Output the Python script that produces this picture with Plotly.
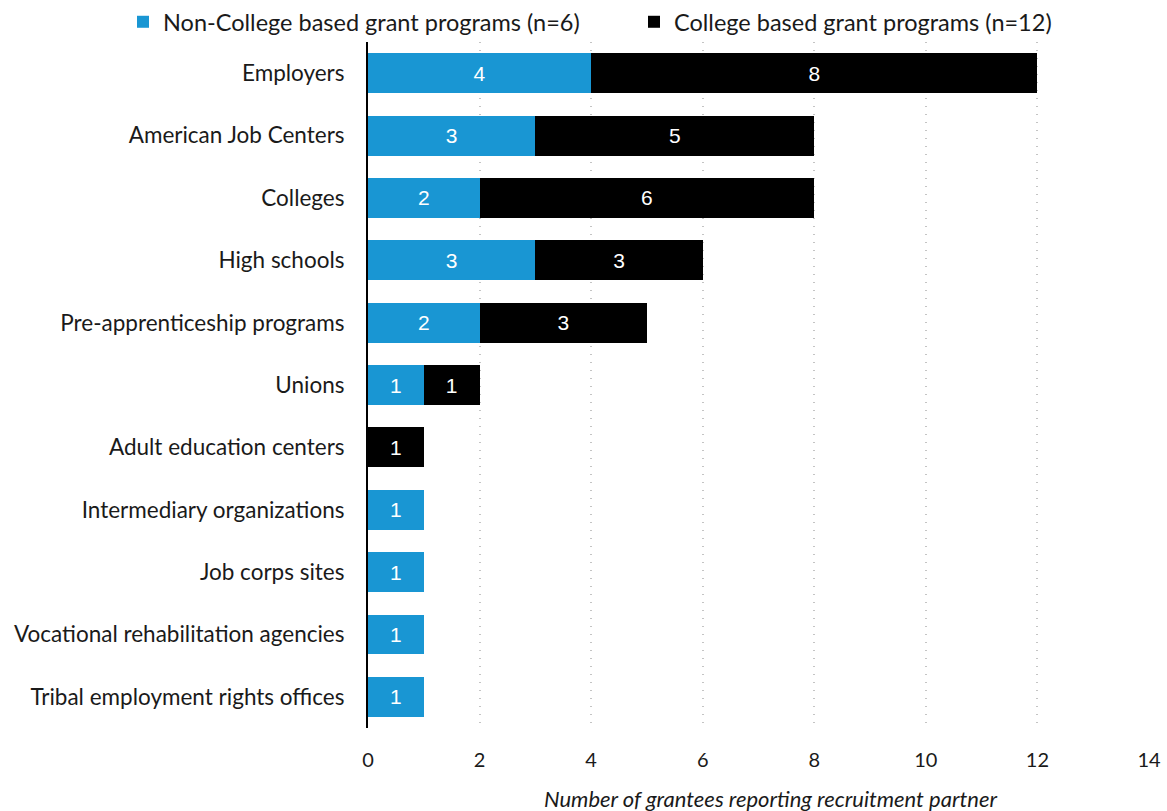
import plotly.graph_objects as go

partners = [
    "Employers",
    "American Job Centers",
    "Colleges",
    "High schools",
    "Pre-apprenticeship programs",
    "Unions",
    "Adult education centers",
    "Intermediary organizations",
    "Job corps sites",
    "Vocational rehabilitation agencies",
    "Tribal employment rights offices",
]
non_college = [4, 3, 2, 3, 2, 1, 0, 1, 1, 1, 1]
college = [8, 5, 6, 3, 3, 1, 1, 0, 0, 0, 0]

BLUE = "#1996d3"
TEXT = "#1a1a1a"
FONT = "Lato"
BAR_FONT = dict(family="Liberation Sans, Arial", size=21, color="white")
LEGEND_FONT = dict(family=FONT, size=23.5, color=TEXT)

def labels(vals):
    return [str(v) if v else "" for v in vals]

fig = go.Figure()
fig.add_trace(go.Bar(
    y=partners, x=non_college, orientation="h",
    name="Non-College based grant programs (n=6)",
    marker=dict(color=BLUE, line=dict(width=0)),
    text=labels(non_college), textposition="inside", insidetextanchor="middle",
    textfont=BAR_FONT, hoverinfo="x+y", legend="legend", showlegend=True,
))
fig.add_trace(go.Bar(
    y=partners, x=college, orientation="h",
    name="College based grant programs (n=12)",
    marker=dict(color="black", line=dict(width=0)),
    text=labels(college), textposition="inside", insidetextanchor="middle",
    textfont=BAR_FONT, hoverinfo="x+y", legend="legend2", showlegend=True,
))

# one single-item legend per series so each can be placed independently
legend_common = dict(
    orientation="h",
    xref="container", xanchor="left",
    yref="container", y=1 - 22 / 811, yanchor="middle",
    font=LEGEND_FONT, itemwidth=30, bgcolor="rgba(0,0,0,0)",
)

fig.update_layout(
    showlegend=True,
    barmode="stack",
    bargap=0.36,
    width=1167, height=811,
    margin=dict(l=368, r=18, t=42, b=83, autoexpand=False),
    plot_bgcolor="white", paper_bgcolor="white",
    font=dict(family=FONT, size=20, color=TEXT),
    uniformtext=dict(mode="show", minsize=18),
    legend=dict(legend_common, x=123 / 1167, visible=True),
    legend2=dict(legend_common, x=634 / 1167, visible=True),
    xaxis=dict(
        range=[0, 14], dtick=2, tick0=0,
        showgrid=True, gridcolor="#c4c4c4", griddash="1px,7px", gridwidth=1.5,
        zeroline=False, showline=False,
        ticks="", ticklabelstandoff=18,
        tickfont=dict(family=FONT, size=20, color=TEXT),
    ),
    yaxis=dict(
        autorange="reversed",
        showline=True, linecolor="black", linewidth=2,
        showgrid=False, ticks="", ticklabelstandoff=17,
        tickfont=dict(family=FONT, size=22.5, color=TEXT),
    ),
    annotations=[dict(
        text="<i>Number of grantees reporting recruitment partner</i>",
        xref="paper", yref="paper", x=(770 - 368) / 781, y=0,
        yanchor="top", yshift=-55,
        showarrow=False, font=dict(family=FONT, size=22, color=TEXT),
    )],
)

fig.write_html("out.html")
